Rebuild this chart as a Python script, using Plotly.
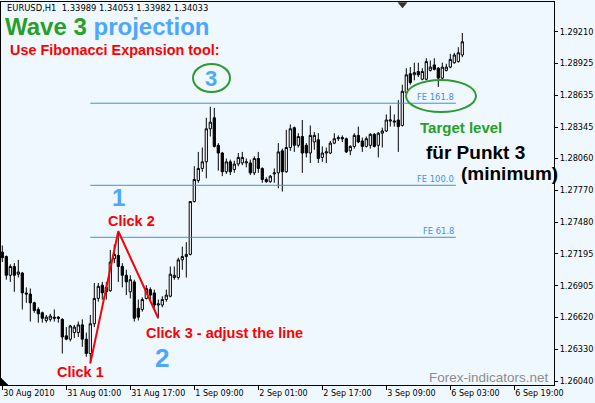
import plotly.graph_objects as go

# ---------------- data ----------------
open_ = [1.2721, 1.2717, 1.2700, 1.2708, 1.2701, 1.2702, 1.2684, 1.2683, 1.2675, 1.2669,
         1.2666, 1.2659, 1.2660, 1.2662, 1.2662, 1.2660, 1.2645, 1.2642, 1.2648, 1.2648,
         1.2655, 1.2642, 1.2629, 1.2656, 1.2679, 1.2691, 1.2689, 1.2686, 1.2715, 1.2718,
         1.2708, 1.2700, 1.2685, 1.2694, 1.2670, 1.2669, 1.2679, 1.2687, 1.2684, 1.2673,
         1.2673, 1.2678, 1.2681, 1.2698, 1.2698, 1.2714, 1.2717, 1.2719, 1.2767, 1.2786,
         1.2797, 1.2803, 1.2833, 1.2843, 1.2818, 1.2811, 1.2794, 1.2803, 1.2796, 1.2801,
         1.2802, 1.2802, 1.2802, 1.2793, 1.2806, 1.2797, 1.2787, 1.2785, 1.2792, 1.2793,
         1.2813, 1.2794, 1.2816, 1.2834, 1.2818, 1.2826, 1.2818, 1.2811, 1.2821, 1.2823,
         1.2807, 1.2811, 1.2811, 1.2820, 1.2824, 1.2825, 1.2824, 1.2813, 1.2817, 1.2827,
         1.2822, 1.2817, 1.2818, 1.2828, 1.2818, 1.2829, 1.2831, 1.2840, 1.2839, 1.2841,
         1.2836, 1.2866, 1.2883, 1.2882, 1.2885, 1.2878, 1.2878, 1.2886, 1.2891, 1.2888,
         1.2879, 1.2886, 1.2889, 1.2893, 1.2894, 1.2900]
high_ = [1.2727, 1.2718, 1.2710, 1.2711, 1.2714, 1.2703, 1.2689, 1.2688, 1.2676, 1.2671,
         1.2667, 1.2664, 1.2665, 1.2669, 1.2663, 1.2661, 1.2653, 1.2655, 1.2655, 1.2658,
         1.2660, 1.2648, 1.2664, 1.2693, 1.2693, 1.2694, 1.2694, 1.2723, 1.2728, 1.2740,
         1.2711, 1.2705, 1.2700, 1.2696, 1.2678, 1.2680, 1.2691, 1.2689, 1.2687, 1.2678,
         1.2681, 1.2687, 1.2708, 1.2708, 1.2716, 1.2726, 1.2730, 1.2767, 1.2799, 1.2812,
         1.2816, 1.2843, 1.2853, 1.2852, 1.2820, 1.2812, 1.2806, 1.2805, 1.2804, 1.2811,
         1.2812, 1.2806, 1.2805, 1.2808, 1.2812, 1.2798, 1.2789, 1.2791, 1.2797, 1.2820,
         1.2815, 1.2832, 1.2837, 1.2835, 1.2829, 1.2841, 1.2820, 1.2836, 1.2830, 1.2829,
         1.2817, 1.2816, 1.2822, 1.2829, 1.2827, 1.2827, 1.2825, 1.2818, 1.2829, 1.2835,
         1.2825, 1.2826, 1.2829, 1.2829, 1.2830, 1.2834, 1.2846, 1.2854, 1.2846, 1.2859,
         1.2873, 1.2888, 1.2889, 1.2893, 1.2893, 1.2888, 1.2897, 1.2895, 1.2897, 1.2889,
         1.2893, 1.2892, 1.2901, 1.2902, 1.2907, 1.2920]
low_ = [1.2712, 1.2696, 1.2694, 1.2685, 1.2698, 1.2669, 1.2675, 1.2658, 1.2666, 1.2657,
        1.2657, 1.2657, 1.2658, 1.2658, 1.2657, 1.2629, 1.2641, 1.2640, 1.2643, 1.2644,
        1.2635, 1.2626, 1.2620, 1.2653, 1.2676, 1.2678, 1.2678, 1.2685, 1.2711, 1.2694,
        1.2689, 1.2682, 1.2679, 1.2658, 1.2659, 1.2667, 1.2678, 1.2678, 1.2670, 1.2661,
        1.2671, 1.2676, 1.2680, 1.2696, 1.2696, 1.2705, 1.2698, 1.2718, 1.2766, 1.2784,
        1.2794, 1.2788, 1.2826, 1.2816, 1.2795, 1.2790, 1.2792, 1.2791, 1.2793, 1.2799,
        1.2800, 1.2798, 1.2791, 1.2791, 1.2793, 1.2784, 1.2784, 1.2784, 1.2784, 1.2779,
        1.2776, 1.2793, 1.2813, 1.2812, 1.2816, 1.2793, 1.2807, 1.2802, 1.2814, 1.2802,
        1.2803, 1.2802, 1.2810, 1.2819, 1.2822, 1.2821, 1.2811, 1.2809, 1.2815, 1.2820,
        1.2812, 1.2816, 1.2815, 1.2816, 1.2807, 1.2816, 1.2830, 1.2835, 1.2835, 1.2812,
        1.2835, 1.2864, 1.2873, 1.2877, 1.2880, 1.2877, 1.2877, 1.2885, 1.2886, 1.2871,
        1.2877, 1.2885, 1.2888, 1.2892, 1.2893, 1.2898]
close_ = [1.2716, 1.2700, 1.2708, 1.2700, 1.2703, 1.2684, 1.2683, 1.2675, 1.2668, 1.2665,
          1.2661, 1.2662, 1.2663, 1.2661, 1.2661, 1.2644, 1.2642, 1.2654, 1.2653, 1.2655,
          1.2642, 1.2629, 1.2656, 1.2679, 1.2690, 1.2684, 1.2685, 1.2712, 1.2719, 1.2708,
          1.2700, 1.2694, 1.2696, 1.2661, 1.2662, 1.2678, 1.2688, 1.2682, 1.2673, 1.2674,
          1.2678, 1.2682, 1.2701, 1.2700, 1.2714, 1.2717, 1.2719, 1.2767, 1.2787, 1.2797,
          1.2803, 1.2833, 1.2839, 1.2817, 1.2811, 1.2794, 1.2803, 1.2794, 1.2801, 1.2807,
          1.2807, 1.2803, 1.2793, 1.2806, 1.2797, 1.2787, 1.2785, 1.2790, 1.2793, 1.2812,
          1.2794, 1.2816, 1.2833, 1.2818, 1.2826, 1.2811, 1.2811, 1.2827, 1.2827, 1.2806,
          1.2811, 1.2812, 1.2820, 1.2824, 1.2825, 1.2824, 1.2812, 1.2817, 1.2827, 1.2821,
          1.2817, 1.2824, 1.2828, 1.2817, 1.2829, 1.2831, 1.2841, 1.2841, 1.2840, 1.2835,
          1.2867, 1.2882, 1.2875, 1.2884, 1.2882, 1.2885, 1.2894, 1.2889, 1.2887, 1.2879,
          1.2889, 1.2889, 1.2896, 1.2900, 1.2902, 1.2912]
bar_index = list(range(len(open_)))

fe_levels = [1.27345, 1.27817, 1.28562]
fe_labels = ["FE 61.8", "FE 100.0", "FE 161.8"]
fe_start_bar = 22
fe_end_bar = 113.4

click_bars = [22, 29, 39]
click_prices = [1.2620, 1.2740, 1.2661]

y_ticks = [1.26040, 1.26330, 1.26620, 1.26905, 1.27195, 1.27480,
           1.27770, 1.28060, 1.28345, 1.28635, 1.28925, 1.29210]
x_tick_bars = [0, 16, 32, 48, 64, 80, 96, 112, 128]
x_tick_labels = ["30 Aug 2010", "31 Aug 01:00", "31 Aug 17:00", "1 Sep 09:00",
                 "2 Sep 01:00", "2 Sep 17:00", "3 Sep 09:00", "6 Sep 03:00", "6 Sep 19:00"]

# ---------------- layout geometry ----------------
W, H = 595, 403
ML, MR, MT, MB = 1, 41, 2, 18
PW, PH = W - ML - MR, H - MT - MB


def px(x, y):
    """pixel position -> paper fraction of the plot area"""
    return (x - ML) / PW, (H - MB - y) / PH


BG = "#F0F8FF"
GREEN = "#26A026"
BLUE = "#4DA6FF"
RED = "#FF0000"
FIBBLUE = "#3C8FE6"
ARIAL = "Liberation Sans"
TAHOMA = "DejaVu Sans"

fig = go.Figure()

# fibonacci expansion levels
for lvl in fe_levels:
    fig.add_trace(go.Scatter(x=[fe_start_bar, fe_end_bar], y=[lvl, lvl], mode="lines",
                             line=dict(color=FIBBLUE, width=1), hoverinfo="skip",
                             showlegend=False))

fig.add_trace(go.Candlestick(
    x=bar_index, open=open_, high=high_, low=low_, close=close_,
    increasing=dict(line=dict(color="black", width=1), fillcolor="white"),
    decreasing=dict(line=dict(color="black", width=1), fillcolor="black"),
    whiskerwidth=0, showlegend=False))

# click lines
fig.add_trace(go.Scatter(x=click_bars, y=click_prices, mode="lines",
                         line=dict(color=RED, width=2), hoverinfo="skip", showlegend=False))

annotations = []


def add_text(text, x, y, size, color, family=ARIAL, xanchor="left", yanchor="middle"):
    fx, fy = px(x, y)
    annotations.append(dict(text=text, x=fx, y=fy, xref="paper", yref="paper",
                            xanchor=xanchor, yanchor=yanchor, showarrow=False,
                            font=dict(size=size, color=color, family=family)))


nb = "\u00a0"
add_text(f"EURUSD,H1{nb}{nb}1.33989{nb}1.34053{nb}1.33982{nb}1.34033", 5, 8, 8.4, "black", TAHOMA)
add_text(f"<b><span style='color:{GREEN}'>Wave 3</span> <span style='color:{BLUE}'>projection</span></b>",
         3, 27, 24, GREEN)
add_text("<b>Use Fibonacci Expansion tool:</b>", 8, 49.5, 14.4, RED)
add_text("<b>3</b>", 211, 78.5, 22, BLUE, xanchor="center")
add_text("<b>1</b>", 118, 197.5, 24, BLUE, xanchor="center")
add_text("<b>2</b>", 162, 357.5, 26, BLUE, xanchor="center")
add_text("<b>Click 2</b>", 131, 220.5, 14.5, RED, xanchor="center")
add_text("<b>Click 1</b>", 80, 371.5, 14.5, RED, xanchor="center")
add_text("<b>Click 3 - adjust the line</b>", 144, 332.5, 14.5, RED)
add_text("<b>Target level</b>", 418, 127.5, 15, GREEN)
add_text("<b>für Punkt 3</b>", 424, 152.5, 19, "black")
add_text("<b>(minimum)</b>", 459, 173.5, 19, "black")
add_text("Forex-indicators.net", 551, 377.5, 13.5, "#8C8C8C", xanchor="right")

for lvl, lab in zip(fe_levels, fe_labels):
    annotations.append(dict(text=lab, x=fe_end_bar, y=lvl, xref="x", yref="y",
                            xanchor="right", yanchor="bottom", showarrow=False, yshift=-1,
                            font=dict(size=8.4, color=FIBBLUE, family=TAHOMA)))

shapes = []
for (x0, y0, x1, y1) in [(406, 80, 476, 112), (193, 64, 230, 92)]:
    a0, b0 = px(x0, y1)
    a1, b1 = px(x1, y0)
    shapes.append(dict(type="circle", xref="paper", yref="paper", x0=a0, y0=b0, x1=a1, y1=b1,
                       line=dict(color="#2E9A2E", width=2)))


def tri(points, color):
    pts = [px(x, y) for x, y in points]
    path = "M " + " L ".join(f"{a:.5f},{b:.5f}" for a, b in pts) + " Z"
    return dict(type="path", xref="paper", yref="paper", path=path,
                fillcolor=color, line=dict(color=color, width=0.5))


# chart-shift marker at the top and the corner marker at bottom-left
shapes.append(tri([(398, 2.5), (407, 2.5), (402.5, 8)], "#333333"))
shapes.append(tri([(1, 378), (1, 385), (8, 385)], "black"))

fig.update_layout(
    width=W, height=H,
    margin=dict(l=ML, r=MR, t=MT, b=MB),
    paper_bgcolor=BG, plot_bgcolor=BG,
    showlegend=False,
    annotations=annotations, shapes=shapes,
    xaxis=dict(range=[-0.325, -0.325 + PW / 4], showgrid=False, zeroline=False,
               showline=True, mirror=True, linecolor="black", linewidth=1,
               ticks="outside", ticklen=4, tickcolor="black",
               tickvals=x_tick_bars, ticktext=x_tick_labels,
               ticklabelposition="outside right",
               tickfont=dict(family=TAHOMA, size=8, color="black"),
               rangeslider=dict(visible=False), fixedrange=True),
    yaxis=dict(range=[1.26004, 1.29481], side="right", showgrid=False, zeroline=False,
               showline=True, mirror=True, linecolor="black", linewidth=1,
               ticks="outside", ticklen=3, tickcolor="black",
               tickvals=y_ticks, ticktext=[f"{v:.5f}" for v in y_ticks],
               tickfont=dict(family=TAHOMA, size=8.2, color="black"), fixedrange=True),
    boxgap=0.2,
)

fig.write_html("out.html", config={"displayModeBar": False},
               post_script="document.body.style.margin='0';document.body.style.background='" + BG + "';")
